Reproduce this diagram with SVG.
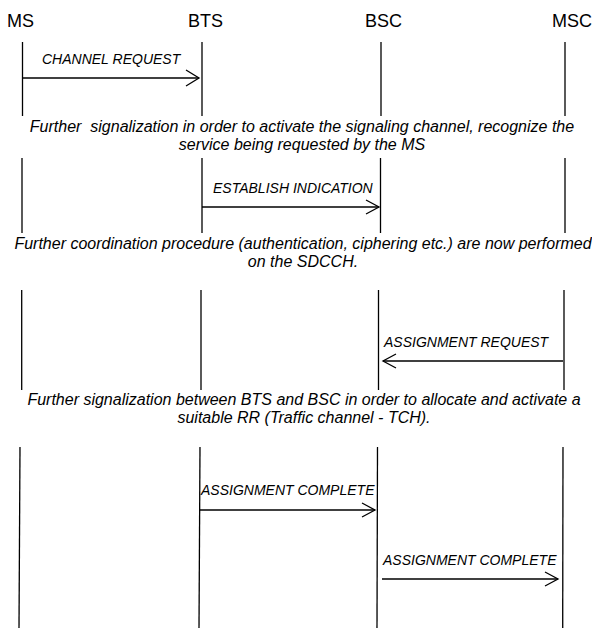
<svg xmlns="http://www.w3.org/2000/svg" width="592" height="628" viewBox="0 0 592 628">
<style>
.hdr{font-family:"Liberation Sans",Arial,sans-serif;font-size:18px;fill:#000}
.note{font-family:"Liberation Sans",Arial,sans-serif;font-size:16px;font-style:italic;fill:#000;text-anchor:middle}
.lbl{font-family:"Liberation Sans",Arial,sans-serif;font-size:14px;font-style:italic;fill:#000}
.life{stroke:#000;stroke-width:1.3;fill:none}
.msg{stroke:#000;stroke-width:1.3;fill:none}
.head{stroke:#000;stroke-width:1.3;fill:none;stroke-linejoin:miter}
</style>
<rect width="592" height="628" fill="#fff"/>
<g id="node-MS">
<text class="hdr" x="7" y="27">MS</text>
<line class="life" x1="22.5" y1="42" x2="22.5" y2="116"/>
<line class="life" x1="22" y1="158" x2="22" y2="233"/>
<line class="life" x1="21.7" y1="290" x2="21.7" y2="390"/>
<line class="life" x1="20" y1="447" x2="19" y2="628"/>
</g>
<g id="node-BTS">
<text class="hdr" x="188" y="27">BTS</text>
<line class="life" x1="202" y1="42" x2="202" y2="116"/>
<line class="life" x1="202" y1="158" x2="202" y2="233"/>
<line class="life" x1="201" y1="290" x2="201" y2="390"/>
<line class="life" x1="200" y1="447" x2="199" y2="628"/>
</g>
<g id="node-BSC">
<text class="hdr" x="365" y="27">BSC</text>
<line class="life" x1="381" y1="42" x2="381" y2="116"/>
<line class="life" x1="380.5" y1="158" x2="380.5" y2="233"/>
<line class="life" x1="378.5" y1="290" x2="378.5" y2="390"/>
<line class="life" x1="377.5" y1="447" x2="377" y2="628"/>
</g>
<g id="node-MSC">
<text class="hdr" x="552" y="27">MSC</text>
<line class="life" x1="565" y1="42" x2="565" y2="116"/>
<line class="life" x1="565" y1="158" x2="565" y2="233"/>
<line class="life" x1="564" y1="290" x2="564" y2="390"/>
<line class="life" x1="563" y1="447" x2="562.7" y2="628"/>
</g>
<g id="notes">
<text class="note" x="302" y="132" xml:space="preserve">Further  signalization in order to activate the signaling channel, recognize the</text>
<text class="note" x="302" y="150">service being requested by the MS</text>
<text class="note" x="303" y="249">Further coordination procedure (authentication, ciphering etc.) are now performed</text>
<text class="note" x="303" y="267">on the SDCCH.</text>
<text class="note" x="304" y="405">Further signalization between BTS and BSC in order to allocate and activate a</text>
<text class="note" x="304" y="423">suitable RR (Traffic channel - TCH).</text>
</g>
<g id="connectors">
<line class="msg" x1="22" y1="78" x2="199" y2="78"/>
<polyline class="head" points="186,70 199,78 186,86"/>
<text class="lbl" x="42" y="64">CHANNEL REQUEST</text>
<line class="msg" x1="202" y1="207" x2="379" y2="207"/>
<polyline class="head" points="366,200 379,207 366,214"/>
<text class="lbl" x="213" y="193">ESTABLISH INDICATION</text>
<line class="msg" x1="563" y1="361" x2="383" y2="361"/>
<polyline class="head" points="396,354 383,361 396,368"/>
<text class="lbl" x="384" y="347">ASSIGNMENT REQUEST</text>
<line class="msg" x1="199" y1="510" x2="375" y2="510"/>
<polyline class="head" points="362,503 375,510 362,517"/>
<text class="lbl" x="201" y="495">ASSIGNMENT COMPLETE</text>
<line class="msg" x1="382" y1="579" x2="558" y2="579"/>
<polyline class="head" points="545,572 558,579 545,586"/>
<text class="lbl" x="383" y="565">ASSIGNMENT COMPLETE</text>
</g>
</svg>
